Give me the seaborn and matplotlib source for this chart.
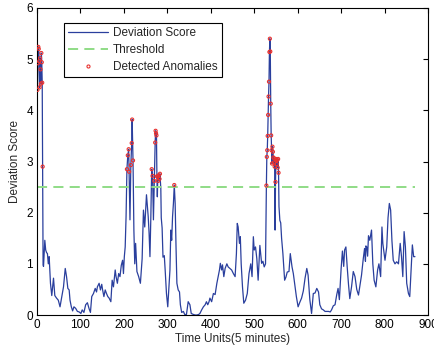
import numpy as np
import pandas as pd
import matplotlib
matplotlib.use("Agg")
import matplotlib.pyplot as plt
import seaborn as sns
from matplotlib.lines import Line2D

# Deviation score per time unit (5-minute intervals); rows of time and score line up
time = [
    1, 2, 3, 4, 5, 6, 7, 8, 9, 10, 11, 12, 13, 14, 15,
    18, 20, 22, 24, 26, 28, 31, 34, 36, 38, 41, 45, 49, 53, 57,
    61, 65, 68, 71, 74, 76, 79, 82, 85, 89, 93, 97, 101, 104, 108,
    112, 116, 120, 123, 126, 130, 134, 137, 139, 143, 146, 149, 151, 154, 157,
    160, 163, 166, 170, 173, 176, 180, 182, 185, 188, 191, 194, 197, 199, 201,
    203, 205, 207, 209, 211, 212, 214, 216, 218, 219, 221, 223, 225, 227, 230,
    234, 238, 242, 245, 248, 252, 256, 258, 260, 262, 264, 266, 268, 270, 272,
    273, 274, 275, 276, 277, 278, 279, 280, 282, 283, 285, 286, 288, 290, 293,
    295, 298, 301, 304, 306, 308, 310, 312, 314, 316, 318, 320, 322, 325, 328,
    330, 333, 337, 340, 344, 348, 352, 355, 360, 364, 368, 372, 375, 379, 383,
    387, 390, 393, 396, 398, 402, 406, 410, 414, 417, 420, 422, 425, 427, 430,
    433, 437, 440, 444, 448, 452, 456, 459, 461, 463, 466, 468, 470, 473, 476,
    480, 484, 488, 492, 495, 498, 500, 503, 506, 509, 513, 517, 520, 523, 526,
    528, 529, 530, 531, 532, 533, 534, 535, 536, 537, 538, 539, 540, 541, 542,
    543, 544, 545, 546, 547, 548, 549, 550, 551, 552, 553, 554, 555, 556, 557,
    559, 561, 563, 566, 568, 570, 573, 576, 580, 583, 587, 590, 594, 597, 601,
    605, 609, 613, 617, 621, 624, 628, 632, 636, 640, 644, 648, 651, 655, 659,
    663, 667, 671, 675, 678, 682, 686, 690, 693, 696, 700, 703, 706, 708, 711,
    714, 717, 720, 724, 728, 732, 736, 740, 744, 747, 751, 754, 756, 757, 759,
    761, 763, 766, 770, 773, 776, 780, 784, 787, 791, 794, 796, 801, 805, 808,
    811, 814, 817, 820, 824, 828, 832, 836, 839, 842, 845, 848, 851, 855, 858,
    861, 864, 867, 870,
]
score = [
    4.40, 4.92, 5.24, 5.20, 4.96, 4.45, 5.02, 4.80, 4.52, 5.12, 4.94, 4.54, 2.90, 0.98, 0.95,
    1.46, 1.27, 1.22, 1.20, 1.00, 1.14, 0.62, 0.38, 0.55, 0.72, 0.38, 0.33, 0.29, 0.16, 0.36,
    0.55, 0.91, 0.75, 0.52, 0.49, 0.29, 0.16, 0.08, 0.16, 0.13, 0.07, 0.06, 0.03, 0.10, 0.05,
    0.20, 0.24, 0.12, 0.05, 0.36, 0.42, 0.52, 0.45, 0.55, 0.62, 0.49, 0.60, 0.49, 0.36, 0.49,
    0.42, 0.36, 0.33, 0.26, 0.68, 0.55, 0.88, 0.75, 0.62, 0.81, 0.75, 0.97, 1.07, 0.81, 1.14,
    1.33, 1.92, 2.85, 3.12, 3.24, 2.80, 1.86, 2.93, 3.36, 3.82, 3.02, 1.66, 1.00, 1.40, 0.85,
    0.75, 0.62, 1.10, 2.05, 1.72, 2.35, 1.92, 1.60, 1.14, 1.90, 2.85, 2.72, 1.86, 2.62, 3.37,
    3.60, 3.55, 3.51, 2.71, 2.31, 2.70, 2.62, 2.73, 2.66, 2.76, 2.47, 1.90, 1.70, 1.13, 1.16,
    0.88, 0.42, 0.16, 0.60, 0.88, 1.66, 1.46, 1.92, 2.18, 2.54, 2.18, 1.33, 0.62, 0.49, 0.45,
    0.20, 0.05, 0.07, 0.01, 0.01, 0.26, 0.20, 0.03, 0.01, 0.00, 0.00, 0.01, 0.03, 0.10, 0.16,
    0.20, 0.26, 0.20, 0.26, 0.33, 0.26, 0.42, 0.40, 0.62, 0.75, 0.88, 1.01, 0.88, 0.98, 0.75,
    0.91, 1.00, 0.94, 0.91, 0.88, 0.81, 0.75, 1.20, 1.79, 1.72, 1.40, 1.53, 1.00, 0.55, 0.23,
    0.29, 0.42, 0.81, 1.00, 0.75, 1.53, 1.27, 1.33, 1.10, 0.68, 1.36, 1.01, 1.05, 0.94, 1.00,
    2.53, 3.09, 3.22, 3.50, 3.91, 4.27, 4.56, 5.14, 5.40, 5.15, 4.13, 3.51, 3.22, 2.96, 3.29,
    3.19, 3.08, 2.98, 3.06, 2.90, 1.66, 2.60, 3.05, 3.02, 2.95, 3.03, 2.88, 3.05, 2.78, 2.12,
    1.85, 1.80, 1.50, 1.20, 0.94, 0.68, 0.74, 0.84, 0.85, 1.20, 0.94, 0.81, 0.55, 0.36, 0.16,
    0.25, 0.33, 0.47, 0.72, 0.91, 0.78, 0.30, 0.03, 0.42, 0.43, 0.52, 0.45, 0.20, 0.12, 0.10,
    0.07, 0.07, 0.07, 0.06, 0.10, 0.18, 0.20, 0.40, 0.52, 0.30, 0.90, 1.25, 0.95, 1.27, 1.33,
    0.94, 0.60, 0.32, 0.55, 0.85, 0.75, 0.50, 0.39, 0.62, 0.78, 1.10, 1.30, 1.05, 1.35, 1.33,
    1.15, 1.55, 1.46, 1.66, 1.00, 0.68, 0.55, 0.88, 1.00, 0.75, 1.72, 1.40, 1.07, 1.33, 1.90,
    2.18, 2.05, 1.45, 1.07, 1.00, 1.04, 1.00, 1.40, 1.14, 0.75, 1.63, 1.33, 0.62, 0.42, 0.36,
    0.88, 1.37, 1.14, 1.14,
]
threshold = 2.5

x_ticks = [0, 100, 200, 300, 400, 500, 600, 700, 800, 900]
y_ticks = [0, 1, 2, 3, 4, 5, 6]

df = pd.DataFrame({"time": time, "score": score})
anom = df[df["score"] > threshold]
thr_df = pd.DataFrame({"time": [time[0], time[-1]], "score": [threshold, threshold]})

sns.set_style("white")
plt.rcParams["font.family"] = ["Liberation Sans", "DejaVu Sans"]

fig = plt.figure(figsize=(4.34, 3.49), dpi=100)
ax = fig.add_axes([37 / 434, 1 - 315 / 349, 391 / 434, 307 / 349])

line_color = "#2a3f9d"
thr_color = "#8fdc86"
anom_color = "#e8312f"

sns.lineplot(data=df, x="time", y="score", ax=ax, color=line_color,
             linewidth=0.9, estimator=None, sort=False)
sns.lineplot(data=thr_df, x="time", y="score", ax=ax, color=thr_color,
             linewidth=1.4, estimator=None)
ax.lines[-1].set_dashes([5.2, 3.2])
sns.scatterplot(data=anom, x="time", y="score", ax=ax, marker="o", s=5,
                facecolors="none", edgecolor=anom_color, linewidth=0.8,
                zorder=3)

ax.set_xlim(0, 900)
ax.set_ylim(0, 6)
ax.set_xticks(x_ticks)
ax.set_yticks(y_ticks)
ax.tick_params(direction="in", length=3.5, width=0.8, top=True, right=True,
               labelsize=8.5, pad=3, colors="black")
for sp in ax.spines.values():
    sp.set_visible(True)
    sp.set_color("black")
    sp.set_linewidth(0.8)

ax.set_xlabel("Time Units(5 minutes)", fontsize=8.5, labelpad=1)
ax.set_ylabel("Deviation Score", fontsize=8.5, labelpad=4)

handles = [
    Line2D([], [], color=line_color, linewidth=0.9),
    Line2D([], [], color=thr_color, linewidth=1.4, dashes=[5.2, 3.2]),
    Line2D([], [], color=anom_color, marker="o", linestyle="none",
           markersize=2.2, markerfacecolor="none", markeredgewidth=0.8),
]
labels = ["Deviation Score", "Threshold", "Detected Anomalies"]
leg = ax.legend(handles, labels, loc="upper left",
                bbox_to_anchor=((64 - 37) / 391, (315 - 23) / 307),
                borderaxespad=0, fontsize=8.5, handlelength=3.4,
                handletextpad=0.4, labelspacing=0.42, borderpad=0.35,
                frameon=True, fancybox=False, edgecolor="black",
                framealpha=1)
leg.get_frame().set_linewidth(0.8)

fig.savefig("out.png", dpi=100)
